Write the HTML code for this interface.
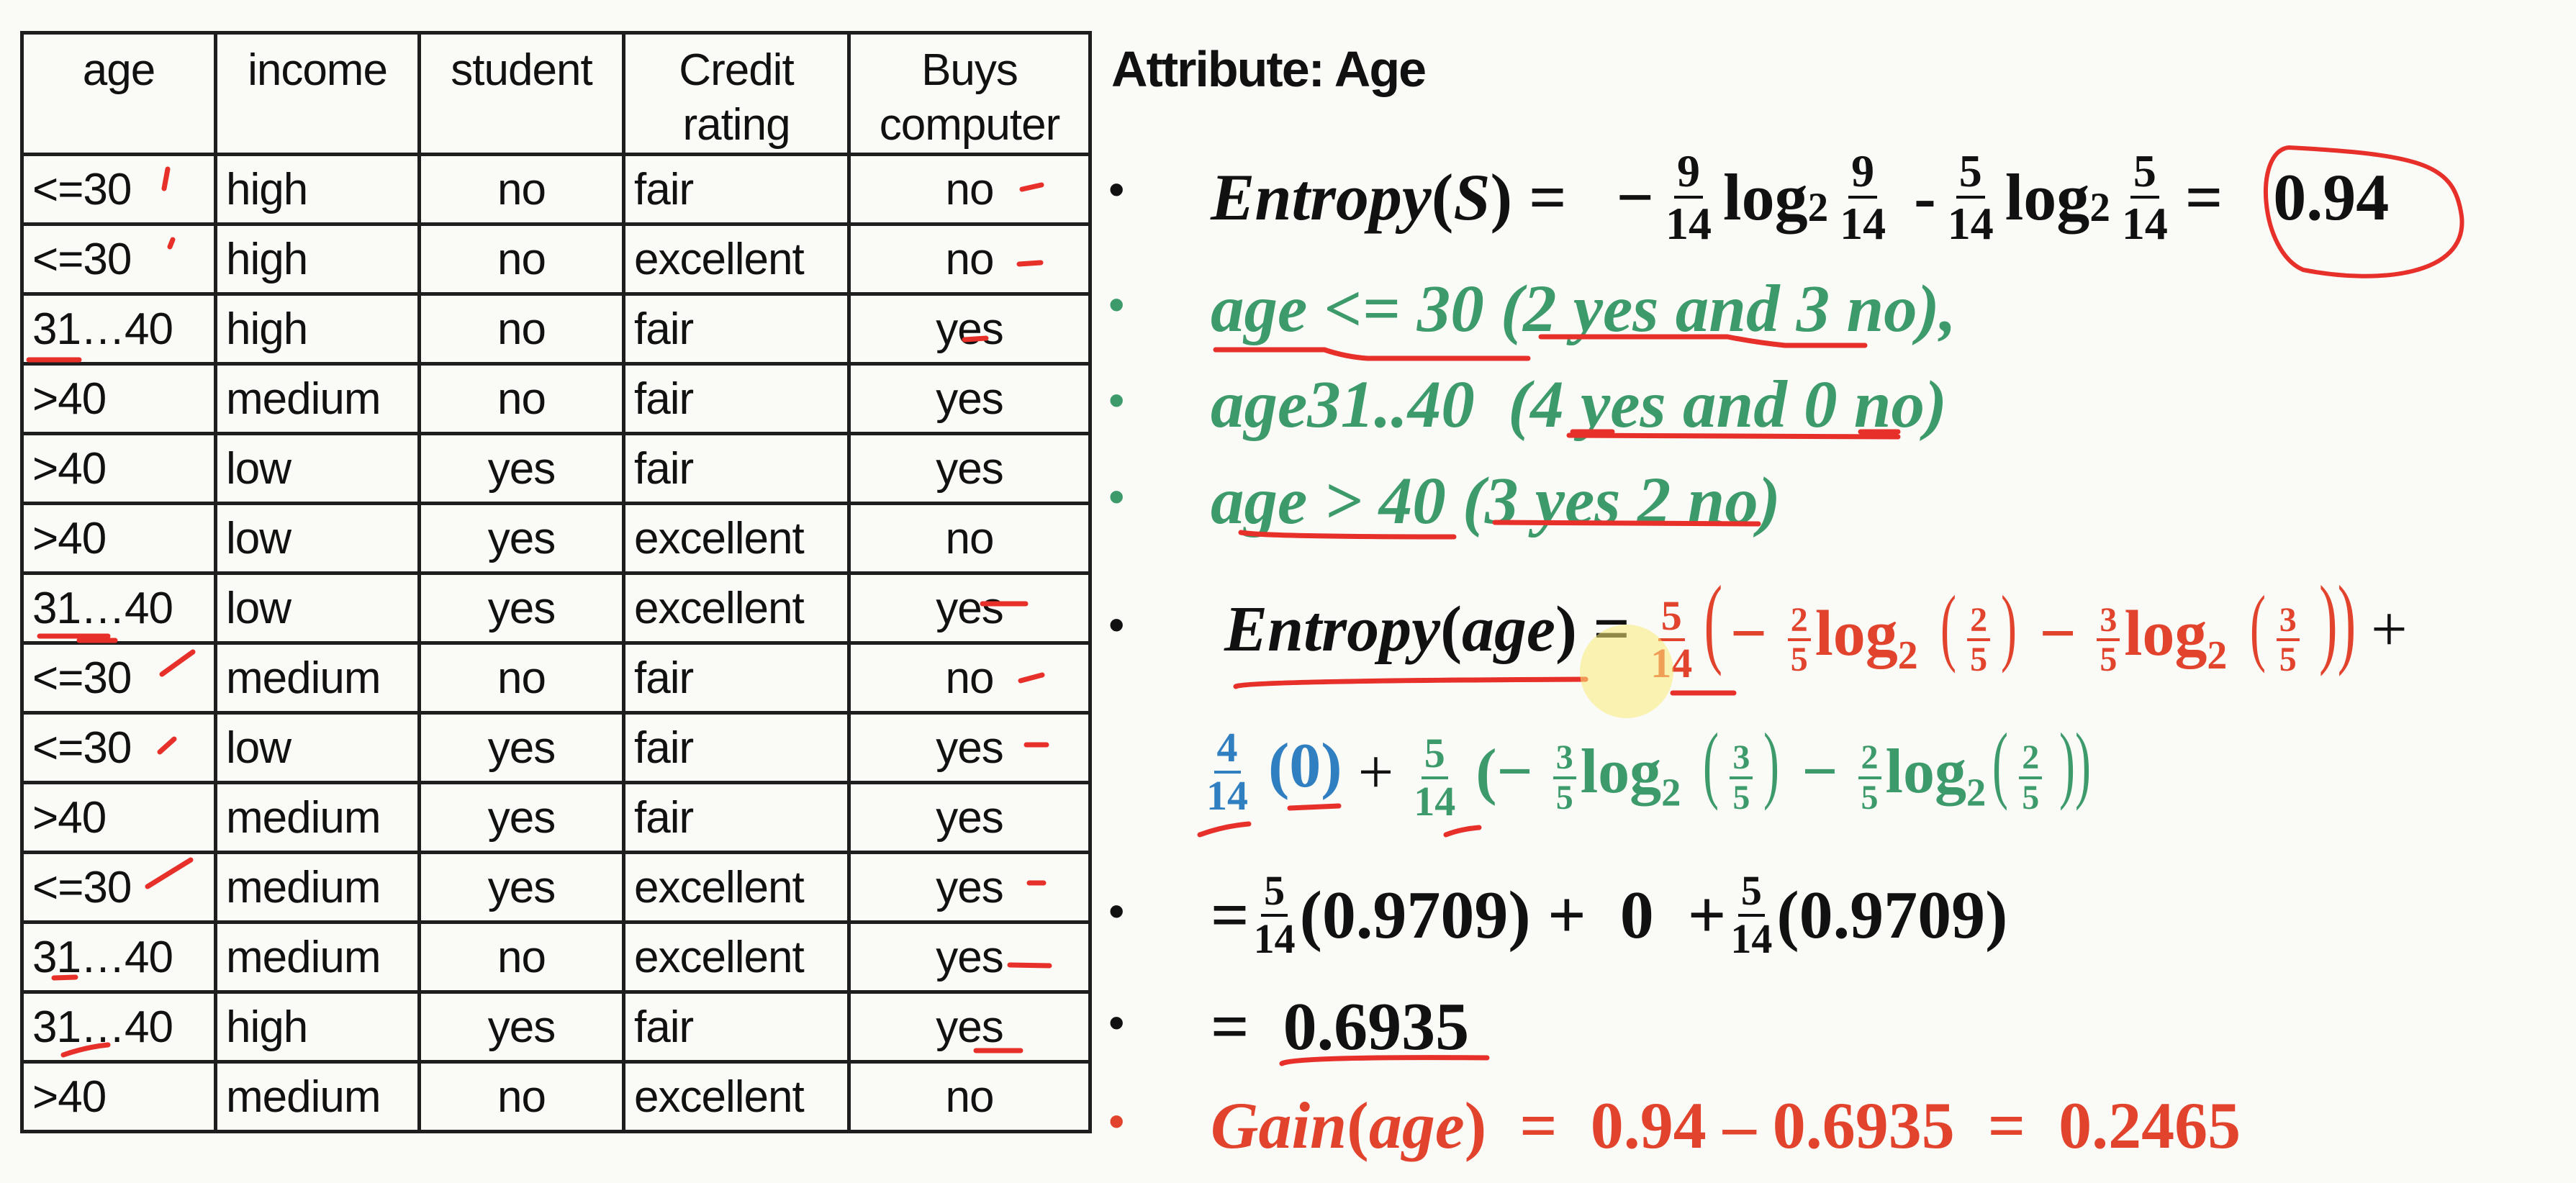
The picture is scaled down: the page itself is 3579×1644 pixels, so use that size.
<!DOCTYPE html>
<html><head><meta charset="utf-8">
<style>
html,body{margin:0;padding:0;}
body{width:3579px;height:1606px;background:#fafaf7;position:relative;overflow:hidden;font-family:"Liberation Sans",sans-serif;}
table{position:absolute;left:28px;top:43px;border-collapse:collapse;table-layout:fixed;}
td{border:5px solid #1e1e1e;height:92px;font-size:62px;color:#111;padding:0 0 0 12px;white-space:nowrap;letter-spacing:-1px;}
tr.h td{height:126px;text-align:center;vertical-align:top;padding:12px 0 0 0;line-height:76px;}
td.c{text-align:center;padding:0;}
.ln{position:absolute;left:0;height:160px;display:flex;align-items:center;font-family:"Liberation Serif",serif;font-weight:bold;white-space:nowrap;}
.b{position:absolute;left:1540px;font-size:64px;font-family:"Liberation Sans",sans-serif;}
.i{font-style:italic;}
.fr{display:inline-flex;flex-direction:column;align-items:center;line-height:1.08;margin:0 6px;vertical-align:middle;}
.fr span:first-child{border-bottom:4px solid currentColor;padding:0 4px;}
.blk{color:#111}.grn{color:#3d9a6b}.red{color:#e2432d}.blu{color:#2f7fc1}
sub{font-size:0.62em;}
.pr{font-weight:normal;line-height:1;transform:scaleX(.55);display:inline-block;}
.big .fr{font-size:64px;margin:0 16px;}
</style></head><body>
<table>
<colgroup><col style="width:269px"><col style="width:283px"><col style="width:284px"><col style="width:313px"><col style="width:335px"></colgroup>
<tr class="h"><td>age</td><td>income</td><td>student</td><td>Credit<br>rating</td><td>Buys<br>computer</td></tr>
<tr><td>&lt;=30</td><td>high</td><td class="c">no</td><td>fair</td><td class="c">no</td></tr>
<tr><td>&lt;=30</td><td>high</td><td class="c">no</td><td>excellent</td><td class="c">no</td></tr>
<tr><td>31…40</td><td>high</td><td class="c">no</td><td>fair</td><td class="c">yes</td></tr>
<tr><td>&gt;40</td><td>medium</td><td class="c">no</td><td>fair</td><td class="c">yes</td></tr>
<tr><td>&gt;40</td><td>low</td><td class="c">yes</td><td>fair</td><td class="c">yes</td></tr>
<tr><td>&gt;40</td><td>low</td><td class="c">yes</td><td>excellent</td><td class="c">no</td></tr>
<tr><td>31…40</td><td>low</td><td class="c">yes</td><td>excellent</td><td class="c">yes</td></tr>
<tr><td>&lt;=30</td><td>medium</td><td class="c">no</td><td>fair</td><td class="c">no</td></tr>
<tr><td>&lt;=30</td><td>low</td><td class="c">yes</td><td>fair</td><td class="c">yes</td></tr>
<tr><td>&gt;40</td><td>medium</td><td class="c">yes</td><td>fair</td><td class="c">yes</td></tr>
<tr><td>&lt;=30</td><td>medium</td><td class="c">yes</td><td>excellent</td><td class="c">yes</td></tr>
<tr><td>31…40</td><td>medium</td><td class="c">no</td><td>excellent</td><td class="c">yes</td></tr>
<tr><td>31…40</td><td>high</td><td class="c">yes</td><td>fair</td><td class="c">yes</td></tr>
<tr><td>&gt;40</td><td>medium</td><td class="c">no</td><td>excellent</td><td class="c">no</td></tr>
</table>

<div style="position:absolute;left:1544px;top:56px;font-size:70px;font-weight:bold;color:#111;letter-spacing:-2px;">Attribute: Age</div>

<div class="b blk" style="top:226px">•</div>
<div class="b grn" style="top:386px">•</div>
<div class="b grn" style="top:519px">•</div>
<div class="b grn" style="top:653px">•</div>
<div class="b blk" style="top:831px">•</div>
<div class="b blk" style="top:1229px">•</div>
<div class="b blk" style="top:1384px">•</div>
<div class="b red" style="top:1521px">•</div>

<div class="ln blk big" style="left:1682px;top:194px;font-size:92px;"><span class="i">Entropy</span>(<span class="i">S</span>) =&nbsp;&nbsp; − <span class="fr"><span>9</span><span>14</span></span>log<sub style="position:relative;top:14px">2</sub> <span class="fr"><span>9</span><span>14</span></span> &nbsp;- <span class="fr"><span>5</span><span>14</span></span>log<sub style="position:relative;top:14px">2</sub> <span class="fr"><span>5</span><span>14</span></span><span style="margin-left:8px">=</span><span style="margin-left:70px">0.94</span></div>

<div class="ln grn i" style="left:1682px;top:349px;font-size:93px;">age &lt;= 30 (2 yes and 3 no),</div>
<div class="ln grn i" style="left:1682px;top:482px;font-size:93px;">age31..40&nbsp; (4 yes and 0 no)</div>
<div class="ln grn i" style="left:1682px;top:616px;font-size:93px;">age &gt; 40 (3 yes 2 no)</div>

<div class="ln" style="left:1701px;top:794px;font-size:90px;"><span class="blk i">Entropy</span><span class="blk">(<span class="i">age</span>) =</span><span class="red">&nbsp;<span class="fr" style="font-size:58px"><span>5</span><span>14</span></span><span class="pr" style="font-size:140px">(</span>− <span class="fr" style="font-size:48px"><span>2</span><span>5</span></span>log<sub>2</sub> <span class="pr" style="font-size:120px">(</span><span class="fr" style="font-size:48px"><span>2</span><span>5</span></span><span class="pr" style="font-size:120px">)</span> − <span class="fr" style="font-size:48px"><span>3</span><span>5</span></span>log<sub>2</sub> <span class="pr" style="font-size:120px">(</span><span class="fr" style="font-size:48px"><span>3</span><span>5</span></span><span class="pr" style="font-size:140px">))</span></span><span class="blk" style="font-weight:normal"> +</span></div>

<div class="ln" style="left:1670px;top:993px;font-size:88px;"><span class="blu"><span class="fr" style="font-size:58px"><span>4</span><span>14</span></span> (0)</span><span class="blk" style="font-weight:normal">&nbsp;+&nbsp;</span><span class="grn"><span class="fr" style="font-size:58px"><span>5</span><span>14</span></span> (− <span class="fr" style="font-size:48px"><span>3</span><span>5</span></span>log<sub>2</sub> <span class="pr" style="font-size:120px">(</span><span class="fr" style="font-size:48px"><span>3</span><span>5</span></span><span class="pr" style="font-size:120px">)</span> − <span class="fr" style="font-size:48px"><span>2</span><span>5</span></span>log<sub>2</sub><span class="pr" style="font-size:120px">(</span><span class="fr" style="font-size:48px"><span>2</span><span>5</span></span><span class="pr" style="font-size:120px">))</span></span></div>

<div class="ln blk" style="left:1682px;top:1192px;font-size:94px;">= <span class="fr" style="font-size:58px"><span>5</span><span>14</span></span>(0.9709) + &nbsp;0 &nbsp;+<span class="fr" style="font-size:58px"><span>5</span><span>14</span></span>(0.9709)</div>
<div class="ln blk" style="left:1682px;top:1347px;font-size:94px;">= &nbsp;0.6935</div>
<div class="ln red" style="left:1682px;top:1484px;font-size:92px;"><span class="i">Gain</span>(<span class="i">age</span>) &nbsp;= &nbsp;0.94 – 0.6935 &nbsp;= &nbsp;0.2465</div>

<svg width="3579" height="1606" style="position:absolute;left:0;top:0" fill="none" stroke="#e8302a" stroke-width="7" stroke-linecap="round">
<path d="M3180 205 C3130 210 3140 350 3200 375 C3300 395 3430 385 3420 300 C3410 230 3370 215 3180 205 Z" stroke-width="6"/>
<path d="M1689 486 L1840 486 Q1870 496 1900 498 L2123 498"/>
<path d="M2141 468 L2400 468 Q2440 476 2480 480 L2591 480"/>
<path d="M2180 605 L2637 607"/><path d="M2185 600 L2240 600 M2585 600 L2637 600"/>
<path d="M1724 740 Q1760 746 2020 746"/>
<path d="M2077 726 L2443 728"/>
<path d="M1717 954 Q1730 946 2203 944 M2324 963 L2409 963"/>
<path d="M1667 1160 Q1700 1148 1735 1145 M1792 1123 L1860 1120 M2009 1160 Q2030 1152 2055 1150"/>
<path d="M1781 1478 Q1800 1468 2066 1470"/>
<path d="M40 500 L110 500"/><path d="M55 884 L150 884 M110 890 L160 890"/>
<path d="M75 1359 L105 1358"/><path d="M88 1466 Q120 1455 150 1452"/>
<path d="M233 235 L228 262 M240 333 L236 343 M225 937 L268 906 M222 1045 L242 1027 M205 1232 L265 1195"/>
<path d="M1420 263 L1447 257 M1416 367 L1446 365 M1340 472 L1370 470 M1365 839 L1425 839 M1418 946 L1448 938 M1426 1035 L1454 1035 M1430 1227 L1450 1227 M1403 1341 L1458 1342 M1356 1460 L1418 1460"/>
</svg>
<div style="position:absolute;left:2195px;top:868px;width:130px;height:130px;border-radius:50%;background:rgba(250,235,120,.55);"></div>
</body></html>
